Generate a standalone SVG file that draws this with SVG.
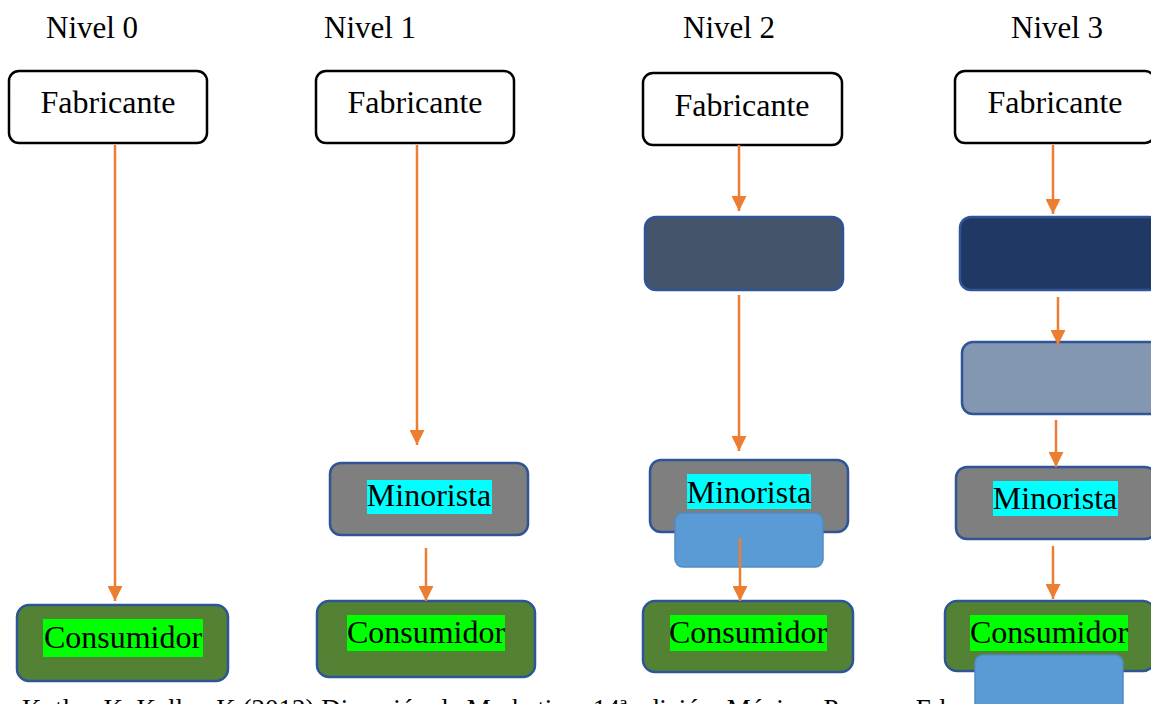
<svg xmlns="http://www.w3.org/2000/svg" width="1151" height="704" viewBox="0 0 1151 704">
<defs>
<style>
text{font-family:"Liberation Serif","Times New Roman",serif;font-size:32px;fill:#000}
.lbl{text-anchor:middle}
.fab{fill:#fff;stroke:#000;stroke-width:2.5}
.node{stroke:#2F5597;stroke-width:2.5}
.min{fill:#7F7F7F}
.con{fill:#548235}
.blue{fill:#5B9BD5;stroke:#4F8CC4;stroke-width:1.5}
.cy{fill:#00FFFF}
.gr{fill:#00FF00}
.arr{stroke:#ED7D31;stroke-width:2.5;fill:none;marker-end:url(#ah)}
</style>
<marker id="ah" viewBox="0 0 10 10" refX="10" refY="5" markerWidth="6" markerHeight="6" markerUnits="strokeWidth" orient="auto">
<path d="M0,0 L10,5 L0,10 Z" fill="#ED7D31"/>
</marker>
</defs>
<rect width="1151" height="704" fill="#fff"/>

<g id="titles">
<text x="46" y="38" style="font-size:31px">Nivel 0</text>
<text x="324" y="38" style="font-size:31px">Nivel 1</text>
<text x="683" y="38" style="font-size:31px">Nivel 2</text>
<text x="1011" y="38" style="font-size:31px">Nivel 3</text>
</g>

<g id="l0-fabricante"><rect class="fab" x="9" y="71" width="198" height="72" rx="10"/><text class="lbl" x="108" y="113">Fabricante</text></g>
<g id="l1-fabricante"><rect class="fab" x="316" y="71" width="198" height="72" rx="10"/><text class="lbl" x="415" y="113">Fabricante</text></g>
<g id="l2-fabricante"><rect class="fab" x="643" y="73" width="199" height="72" rx="10"/><text class="lbl" x="742" y="116">Fabricante</text></g>
<g id="l3-fabricante"><rect class="fab" x="955" y="71" width="200" height="72" rx="10"/><text class="lbl" x="1055" y="113">Fabricante</text></g>

<g id="l2-intermediario"><rect class="node" fill="#44546A" x="645" y="217" width="198" height="73" rx="11"/></g>
<g id="l3-mayorista"><rect class="node" fill="#203864" x="960" y="217" width="200" height="73" rx="11"/></g>
<g id="l3-intermediario"><rect class="node" fill="#8497B0" x="962" y="342" width="200" height="72" rx="11"/></g>

<g id="l1-minorista"><rect class="node min" x="330" y="463" width="198" height="72" rx="11"/><rect class="cy" x="367" y="480" width="125" height="34"/><text class="lbl" x="429" y="506">Minorista</text></g>
<g id="l2-minorista"><rect class="node min" x="650" y="460" width="198" height="72" rx="11"/><rect class="cy" x="687" y="474" width="124" height="35"/><text class="lbl" x="749" y="503">Minorista</text></g>
<g id="l2-blue"><rect class="blue" x="675" y="513" width="148" height="54" rx="8"/></g>
<g id="l3-minorista"><rect class="node min" x="956" y="467" width="200" height="72" rx="11"/><rect class="cy" x="993" y="481" width="125" height="35"/><text class="lbl" x="1055" y="509">Minorista</text></g>

<g id="l0-consumidor"><rect class="node con" x="17" y="605" width="211" height="76" rx="12"/><rect class="gr" x="43" y="619" width="160" height="38"/><text class="lbl" x="123" y="648">Consumidor</text></g>
<g id="l1-consumidor"><rect class="node con" x="317" y="601" width="218" height="76" rx="12"/><rect class="gr" x="347" y="615" width="158" height="36"/><text class="lbl" x="426" y="643">Consumidor</text></g>
<g id="l2-consumidor"><rect class="node con" x="643" y="601" width="210" height="71" rx="12"/><rect class="gr" x="670" y="615" width="157" height="36"/><text class="lbl" x="748" y="643">Consumidor</text></g>
<g id="l3-consumidor"><rect class="node con" x="945" y="601" width="210" height="70" rx="12"/><rect class="gr" x="970" y="615" width="158" height="36"/><text class="lbl" x="1049" y="643">Consumidor</text></g>

<g id="caption"><text x="22" y="718" style="font-size:27px">Kotler, K. Keller, K (2012) Dirección de Marketing. 14ª edición. México: Pearson Edu</text></g>
<g id="l3-blue"><rect class="blue" x="975" y="655" width="148" height="60" rx="8"/></g>

<g id="connectors">
<line class="arr" x1="115" y1="145" x2="115" y2="601"/>
<line class="arr" x1="417" y1="145" x2="417" y2="445"/>
<line class="arr" x1="426" y1="548" x2="426" y2="601"/>
<line class="arr" x1="739" y1="145" x2="739" y2="211"/>
<line class="arr" x1="739" y1="295" x2="739" y2="451"/>
<line class="arr" x1="740" y1="538" x2="740" y2="601"/>
<line class="arr" x1="1053" y1="145" x2="1053" y2="214"/>
<line class="arr" x1="1058" y1="297" x2="1058" y2="345"/>
<line class="arr" x1="1056" y1="420" x2="1056" y2="467"/>
<line class="arr" x1="1053" y1="546" x2="1053" y2="599"/>
</g>
</svg>
